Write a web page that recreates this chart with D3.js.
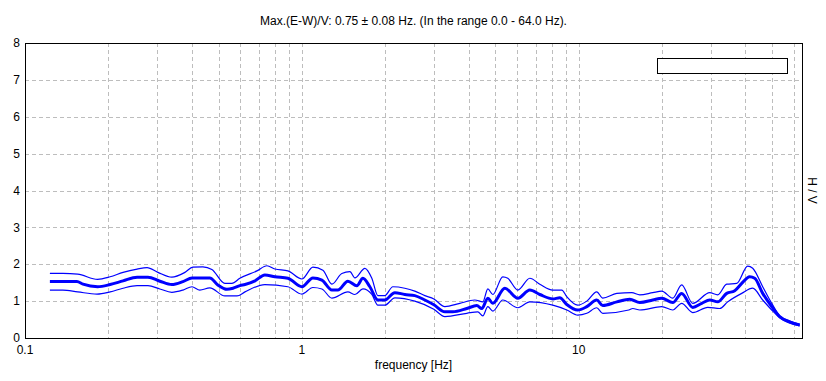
<!DOCTYPE html>
<html>
<head>
<meta charset="utf-8">
<script src="https://cdn.jsdelivr.net/npm/d3@7"></script>
<style>
  body { margin: 0; background: #fff; }
  text { font-family: "Liberation Sans", Arial, sans-serif; font-size: 12px; fill: #000; }
</style>
</head>
<body>
<div id="chart"></div>
<script>
const title = "Max.(E-W)/V: 0.75 \u00b1 0.08 Hz. (In the range 0.0 - 64.0 Hz).";
const xLabel = "frequency [Hz]";
const yLabel = "H / V";
const xTicks = [0.1, 1, 10];
const xTickLabels = ["0.1", "1", "10"];
const yTicks = [0, 1, 2, 3, 4, 5, 6, 7, 8];

// mean H/V curve
const meanFreq = [0.123, 0.154, 0.162, 0.183, 0.203, 0.226, 0.254, 0.278, 0.307, 0.339, 0.372, 0.401, 0.465, 0.497, 0.536, 0.564, 0.597, 0.623, 0.677, 0.735, 0.799, 0.890, 1.000, 1.096, 1.181, 1.283, 1.349, 1.466, 1.580, 1.661, 1.760, 1.881, 1.993, 2.166, 2.353, 2.558, 2.780, 2.997, 3.284, 3.509, 3.942, 4.283, 4.465, 4.694, 4.893, 5.406, 6.024, 6.655, 7.231, 8.055, 8.537, 9.051, 9.918, 10.69, 11.61, 12.21, 13.72, 15.28, 16.61, 18.50, 19.93, 21.85, 23.53, 25.79, 27.80, 29.72, 31.76, 34.21, 36.58, 38.77, 41.43, 43.19, 46.16, 49.76, 53.16, 57.77, 62.80];
const meanHV = [1.53, 1.53, 1.46, 1.39, 1.45, 1.55, 1.65, 1.65, 1.54, 1.45, 1.53, 1.63, 1.63, 1.44, 1.32, 1.35, 1.42, 1.45, 1.55, 1.71, 1.66, 1.62, 1.39, 1.63, 1.57, 1.30, 1.30, 1.54, 1.42, 1.62, 1.39, 1.03, 1.03, 1.23, 1.18, 1.15, 1.03, 0.90, 0.71, 0.71, 0.80, 0.88, 0.80, 1.08, 0.94, 1.35, 1.08, 1.30, 1.18, 1.06, 1.09, 0.91, 0.76, 0.85, 1.03, 0.88, 0.98, 1.05, 0.96, 1.03, 1.08, 0.96, 1.21, 0.83, 0.94, 1.03, 0.98, 1.21, 1.28, 1.48, 1.66, 1.62, 1.21, 0.85, 0.58, 0.44, 0.35];

// mean + std curve
const upperFreq = [0.123, 0.137, 0.155, 0.183, 0.203, 0.226, 0.254, 0.276, 0.302, 0.339, 0.378, 0.404, 0.439, 0.473, 0.527, 0.559, 0.597, 0.688, 0.748, 0.799, 0.890, 1.000, 1.096, 1.191, 1.283, 1.394, 1.491, 1.554, 1.689, 1.789, 1.881, 1.993, 2.131, 2.353, 2.558, 2.780, 2.997, 3.284, 3.720, 4.212, 4.502, 4.694, 4.893, 5.316, 5.542, 6.024, 6.655, 7.231, 8.055, 8.681, 9.051, 9.918, 10.69, 11.61, 12.21, 13.72, 15.54, 16.61, 18.50, 19.93, 21.85, 23.53, 25.79, 29.72, 31.76, 34.21, 37.19, 40.75, 42.48, 46.16, 49.76, 53.16, 57.77, 62.80];
const upperHV = [1.75, 1.75, 1.73, 1.59, 1.66, 1.78, 1.87, 1.91, 1.78, 1.65, 1.78, 1.92, 1.93, 1.86, 1.48, 1.48, 1.62, 1.82, 1.96, 1.87, 1.82, 1.60, 1.92, 1.84, 1.46, 1.75, 1.80, 1.63, 1.89, 1.62, 1.15, 1.15, 1.39, 1.35, 1.27, 1.15, 1.06, 0.85, 0.94, 1.03, 0.98, 1.33, 1.18, 1.66, 1.62, 1.30, 1.62, 1.46, 1.30, 1.30, 1.12, 0.89, 1.00, 1.25, 1.08, 1.21, 1.23, 1.17, 1.23, 1.27, 1.08, 1.44, 0.94, 1.23, 1.17, 1.46, 1.48, 1.95, 1.89, 1.39, 0.94, 0.60, 0.46, 0.38];

// mean - std curve
const lowerFreq = [0.123, 0.137, 0.155, 0.182, 0.203, 0.226, 0.254, 0.278, 0.307, 0.339, 0.372, 0.401, 0.428, 0.465, 0.527, 0.583, 0.623, 0.735, 0.890, 1.000, 1.096, 1.181, 1.283, 1.466, 1.554, 1.661, 1.789, 1.881, 1.993, 2.166, 2.558, 2.997, 3.284, 3.942, 4.319, 4.502, 4.694, 4.893, 5.316, 6.024, 6.655, 8.055, 9.051, 9.918, 10.69, 11.61, 12.21, 15.16, 15.67, 16.61, 19.93, 21.85, 23.53, 25.79, 29.23, 32.29, 34.50, 38.77, 42.48, 46.16, 49.76, 53.16, 62.80];
const lowerHV = [1.30, 1.30, 1.25, 1.19, 1.25, 1.35, 1.42, 1.42, 1.33, 1.24, 1.30, 1.39, 1.30, 1.36, 1.14, 1.14, 1.25, 1.45, 1.39, 1.19, 1.37, 1.33, 1.08, 1.25, 1.18, 1.33, 1.18, 0.89, 0.89, 1.09, 1.00, 0.78, 0.58, 0.67, 0.71, 0.60, 0.85, 0.73, 1.03, 0.82, 0.98, 0.89, 0.76, 0.62, 0.67, 0.82, 0.67, 0.76, 0.80, 0.76, 0.85, 0.76, 0.94, 0.69, 0.83, 0.80, 0.98, 1.21, 1.35, 1.03, 0.76, 0.55, 0.33];

const width = 826;
const height = 381;
const margin = { top: 43, right: 24, bottom: 43, left: 25 };
const boundedwidth = width - margin.left - margin.right;
const boundedheight = height - margin.top - margin.bottom;

const xScale = d3.scaleLog().domain([0.1, 64]).range([0, boundedwidth]);
const yScale = d3.scaleLinear().domain([0, 8]).range([boundedheight, 0]);

const svg = d3.select("#chart").append("svg")
    .attr("width", width)
    .attr("height", height);

svg.append("text")
    .attr("x", margin.left + boundedwidth / 2)
    .attr("y", 25)
    .attr("text-anchor", "middle")
    .text(title);

const g = svg.append("g")
    .attr("transform", "translate(" + margin.left + "," + margin.top + ")");

// grid lines
const xGrid = [];
[0.1, 1, 10].forEach(dec => d3.range(1, 10).forEach(k => { if (dec * k <= 64) xGrid.push(dec * k); }));

g.selectAll(".vgrid").data(xGrid).join("line")
    .attr("x1", d => Math.round(xScale(d)) + 0.5)
    .attr("x2", d => Math.round(xScale(d)) + 0.5)
    .attr("y1", 0)
    .attr("y2", boundedheight)
    .attr("stroke", "#bdbdbd")
    .attr("stroke-dasharray", "4,3");

g.selectAll(".hgrid").data(yTicks.slice(1, -1)).join("line")
    .attr("x1", 0)
    .attr("x2", boundedwidth)
    .attr("y1", d => Math.round(yScale(d)) + 0.5)
    .attr("y2", d => Math.round(yScale(d)) + 0.5)
    .attr("stroke", "#bdbdbd")
    .attr("stroke-dasharray", "4,3");

// frame
g.append("rect")
    .attr("x", 0.5)
    .attr("y", 0.5)
    .attr("width", boundedwidth)
    .attr("height", boundedheight)
    .attr("fill", "none")
    .attr("stroke", "#000")
    .attr("stroke-width", 1);

// axes labels
g.selectAll(".ylab").data(yTicks).join("text")
    .attr("x", -5)
    .attr("y", d => yScale(d))
    .attr("dy", "0.35em")
    .attr("text-anchor", "end")
    .text(d => d);

g.selectAll(".xlab").data(xTicks).join("text")
    .attr("x", d => xScale(d))
    .attr("y", boundedheight + 16)
    .attr("text-anchor", "middle")
    .text((d, i) => xTickLabels[i]);

g.append("text")
    .attr("x", boundedwidth / 2)
    .attr("y", boundedheight + 31)
    .attr("text-anchor", "middle")
    .text(xLabel);

svg.append("text")
    .attr("transform", "translate(" + (width - 18) + "," + (margin.top + boundedheight / 2) + ") rotate(90)")
    .attr("text-anchor", "middle")
    .text(yLabel);

// legend box (empty)
g.append("rect")
    .attr("x", 632.5)
    .attr("y", 15.5)
    .attr("width", 130)
    .attr("height", 15)
    .attr("fill", "#fff")
    .attr("stroke", "#000");

// curves
const line = d3.line()
    .curve(d3.curveMonotoneX)
    .x(d => xScale(d[0]))
    .y(d => yScale(d[1]));

const series = [
    { freq: upperFreq, hv: upperHV, w: 1.2 },
    { freq: lowerFreq, hv: lowerHV, w: 1.2 },
    { freq: meanFreq, hv: meanHV, w: 3 }
];

series.forEach(s => {
    g.append("path")
        .datum(d3.zip(s.freq, s.hv))
        .attr("fill", "none")
        .attr("stroke", "#0000ff")
        .attr("stroke-width", s.w)
        .attr("stroke-linejoin", "round")
        .attr("d", line);
});
</script>
</body>
</html>
